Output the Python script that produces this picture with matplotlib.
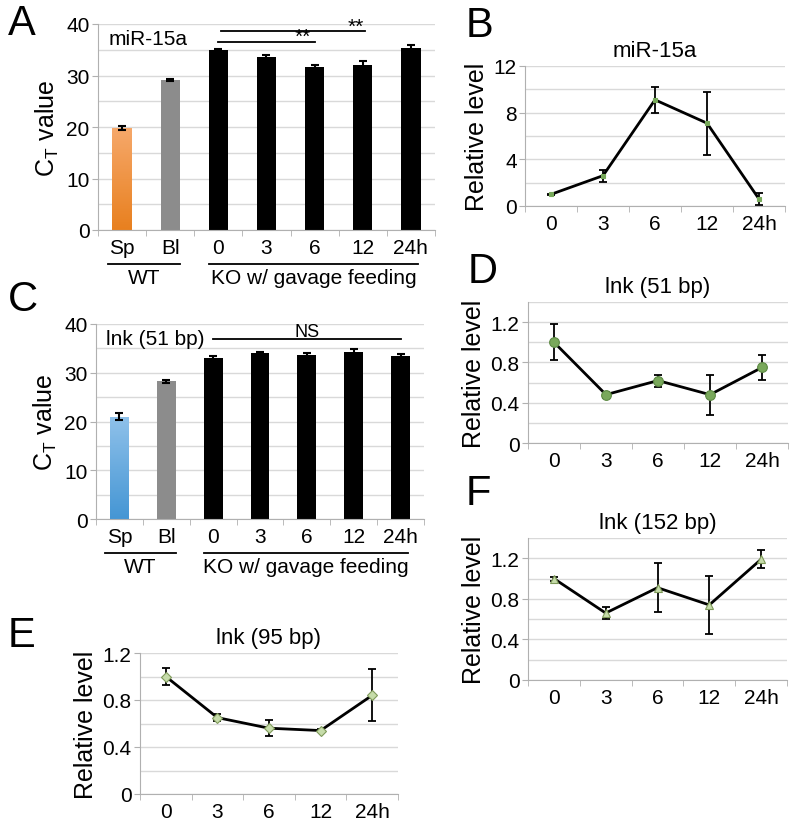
import numpy as np
import matplotlib
matplotlib.use("Agg")
import matplotlib.pyplot as plt
from matplotlib.lines import Line2D
from matplotlib.colors import LinearSegmentedColormap

plt.rcParams['font.family'] = ['Liberation Sans', 'DejaVu Sans']

# ---- data ----
bar_cats = ['Sp', 'Bl', '0', '3', '6', '12', '24h']
a_ct = [19.8, 29.1, 34.9, 33.5, 31.7, 32.1, 35.4]
a_err = [0.4, 0.2, 0.2, 0.4, 0.3, 0.8, 0.6]
c_ct = [21.0, 28.3, 33.1, 34.1, 33.7, 34.2, 33.5]
c_err = [0.7, 0.3, 0.3, 0.2, 0.3, 0.6, 0.3]

time_cats = ['0', '3', '6', '12', '24h']
b_rel = [1.0, 2.6, 9.1, 7.1, 0.6]
b_err = [0.05, 0.5, 1.1, 2.7, 0.5]
d_rel = [1.0, 0.48, 0.62, 0.48, 0.75]
d_err = [0.18, 0.03, 0.06, 0.2, 0.12]
e_rel = [1.0, 0.65, 0.56, 0.54, 0.84]
e_err = [0.07, 0.03, 0.07, 0.01, 0.22]
f_rel = [1.0, 0.66, 0.91, 0.74, 1.19]
f_err = [0.02, 0.06, 0.24, 0.29, 0.09]

W, H = 800, 828
fig = plt.figure(figsize=(W / 100, H / 100), dpi=100)

GRID = '#d9d9d9'
SPINE = '#b0b0b0'
TICK_FS = 15


def make_ax(x0, x1, ytop, ybot):
    return fig.add_axes([x0 / W, 1 - ybot / H, (x1 - x0) / W, (ybot - ytop) / H])


def style(ax, ncat, ylim, major, minor):
    ax.set_xlim(-0.5, ncat - 0.5)
    ax.set_ylim(0, ylim)
    ax.set_yticks(major)
    ax.set_yticks(minor, minor=True)
    ax.grid(True, axis='y', which='both', color=GRID, lw=1)
    ax.set_axisbelow(True)
    for s in ['top', 'right']:
        ax.spines[s].set_visible(False)
    for s in ['left', 'bottom']:
        ax.spines[s].set_color(SPINE)
    ax.set_xticks(np.arange(ncat))
    ax.set_xticks(np.arange(ncat + 1) - 0.5, minor=True)
    ax.tick_params(axis='x', which='major', length=0, pad=6, labelsize=TICK_FS)
    ax.tick_params(axis='x', which='minor', length=4, color=SPINE, direction='out')
    ax.tick_params(axis='y', which='major', length=4, color=SPINE, labelsize=TICK_FS, pad=2)
    ax.tick_params(axis='y', which='minor', length=0)
    ax.yaxis.set_major_formatter(matplotlib.ticker.FuncFormatter(lambda v, p: ('%g' % v)))


def bar_panel(ax, vals, errs, grad, label, ax_h):
    x = np.arange(len(bar_cats))
    colors = ['none', '#8c8c8c'] + ['black'] * 5
    bars = ax.bar(x, vals, width=0.4, color=colors, zorder=2)
    # gradient fill for the first (Sp) bar
    b = bars[0]
    cmap = LinearSegmentedColormap.from_list('g', grad)
    im = ax.imshow(np.linspace(1, 0, 64).reshape(-1, 1), cmap=cmap, aspect='auto',
                   extent=[b.get_x(), b.get_x() + b.get_width(), 0, b.get_height()],
                   zorder=2)
    im.set_clip_path(b)
    ax.errorbar(x, vals, yerr=errs, fmt='none', ecolor='black', elinewidth=1.5,
                capsize=3, capthick=1.5, zorder=3)
    style(ax, len(bar_cats), 40, [0, 10, 20, 30, 40], np.arange(0, 41, 5))
    ax.set_xticklabels(bar_cats)
    ax.set_ylabel('C$_\\mathregular{T}$ value', fontsize=18, labelpad=4)
    ax.text(0.03, 0.975, label, transform=ax.transAxes, fontsize=15, va='top', ha='left')
    tr = ax.get_xaxis_transform()
    yline = -34 / ax_h
    ytxt = -38 / ax_h
    for x0, x1, txt in [(-0.3, 1.2, 'WT'), (1.8, 6.15, 'KO w/ gavage feeding')]:
        ax.add_line(Line2D([x0, x1], [yline, yline], transform=tr, color='black',
                           lw=1.3, clip_on=False))
        ax.text((x0 + x1) / 2, ytxt, txt, transform=tr, ha='center', va='top',
                fontsize=TICK_FS)


def line_panel(ax, vals, errs, marker, mcolor, medge, msize, title, ylim, major, minor):
    x = np.arange(len(time_cats))
    ax.errorbar(x, vals, yerr=errs, fmt='none', ecolor='black', elinewidth=1.3,
                capsize=3, capthick=1.3, zorder=3)
    ax.plot(x, vals, color='black', lw=2, marker=marker, markersize=msize,
            markerfacecolor=mcolor, markeredgecolor=medge, markeredgewidth=0.8, zorder=4)
    style(ax, len(time_cats), ylim, major, minor)
    ax.set_xticklabels(time_cats)
    ax.set_ylabel('Relative level', fontsize=18, labelpad=3)
    ax.set_title(title, fontsize=16, pad=7)


# A
axA = make_ax(98, 435, 25, 231)
bar_panel(axA, a_ct, a_err, ['#e8801f', '#f6a86a'], 'miR-15a', 206)
for x0, x1, y, sx in [(2, 4, 36.6, 3.75), (2.05, 5.05, 38.6, 4.85)]:
    axA.plot([x0, x1], [y, y], color='black', lw=1.3, clip_on=False)
    axA.text(sx, y - 0.9, '**', ha='center', va='bottom', fontsize=15)

# C
axC = make_ax(96, 424, 325, 520)
bar_panel(axC, c_ct, c_err, ['#4596d4', '#8fc1ea'], 'lnk (51 bp)', 195)
axC.plot([2, 6], [36.9, 36.9], color='black', lw=1.3, clip_on=False)
axC.text(4, 36.7, 'NS', ha='center', va='bottom', fontsize=13)

# B
axB = make_ax(525, 785, 67, 207)
line_panel(axB, b_rel, b_err, 's', '#77a95a', '#77a95a', 3.5, 'miR-15a', 12,
           [0, 4, 8, 12], np.arange(0, 13, 2))

# D
axD = make_ax(528, 788, 303, 444)
line_panel(axD, d_rel, d_err, 'o', '#79a85b', '#5d8a44', 7, 'lnk (51 bp)', 1.4,
           [0, 0.4, 0.8, 1.2], np.arange(0, 1.41, 0.2))

# E
axE = make_ax(140, 398, 654, 795)
line_panel(axE, e_rel, e_err, 'D', '#c6dcaa', '#7f9a5a', 5, 'lnk (95 bp)', 1.2,
           [0, 0.4, 0.8, 1.2], np.arange(0, 1.21, 0.2))

# F
axF = make_ax(528, 787, 539, 681)
line_panel(axF, f_rel, f_err, '^', '#c6dcaa', '#7f9a5a', 6, 'lnk (152 bp)', 1.4,
           [0, 0.4, 0.8, 1.2], np.arange(0, 1.41, 0.2))

# panel letters
for lx, ly, letter in [(8, 24, 'A'), (466, 26, 'B'), (8, 300, 'C'), (468, 272, 'D'),
                       (8, 636, 'E'), (466, 494, 'F')]:
    fig.text(lx / W, 1 - ly / H, letter, fontsize=30, va='center', ha='left')

fig.savefig('out.png', dpi=100)
